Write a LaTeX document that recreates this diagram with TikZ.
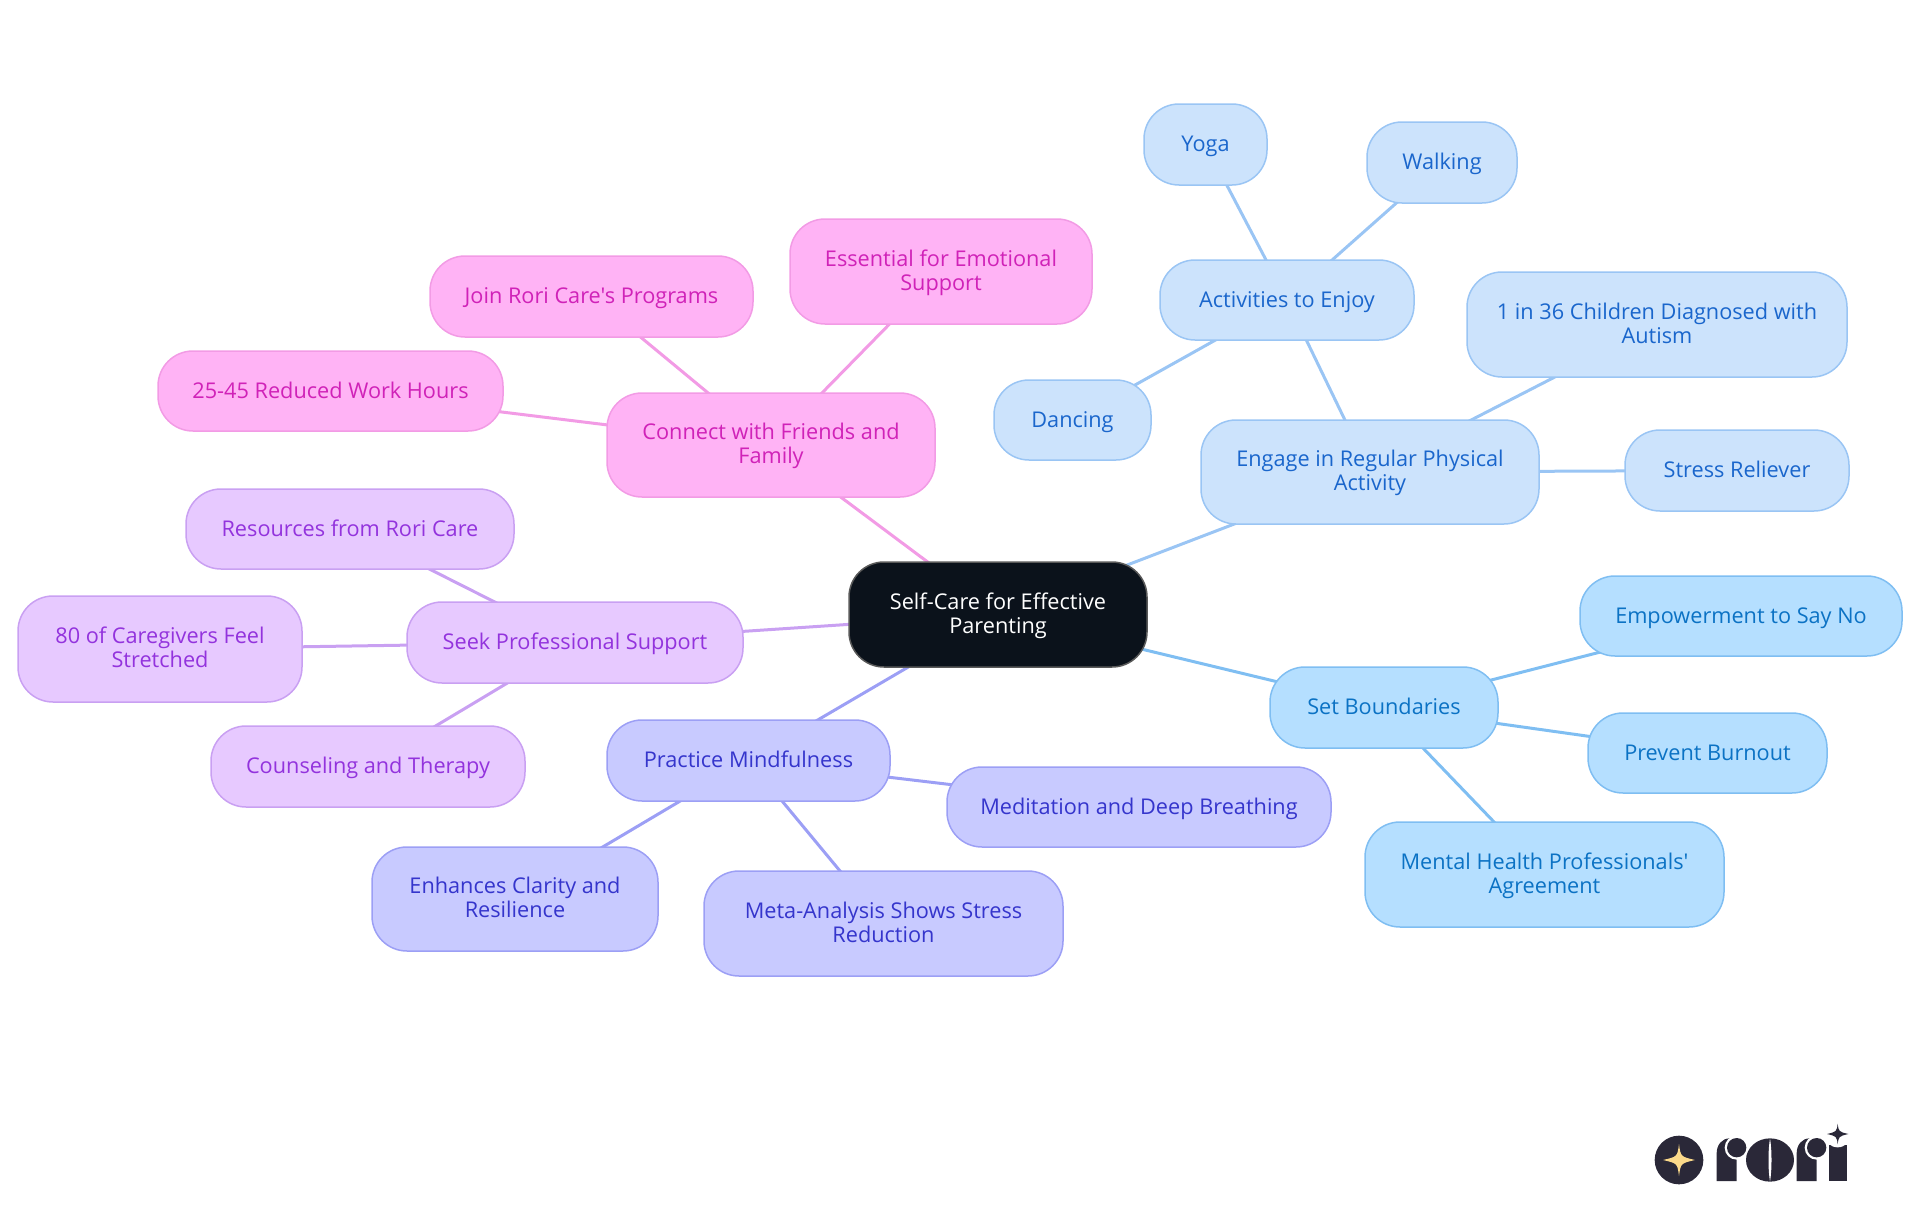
\documentclass[tikz,border=0pt]{standalone}
\usepackage{fontspec}
\setmainfont[Ligatures=TeXOff]{Open Sans}
\usetikzlibrary{backgrounds}
\definecolor{bluefill}{HTML}{CCE3FC}\definecolor{blueline}{HTML}{9AC5F4}\definecolor{bluetext}{HTML}{1A66CC}
\definecolor{skyfill}{HTML}{B5DFFF}\definecolor{skyline}{HTML}{7FBEF2}\definecolor{skytext}{HTML}{0B72C4}
\definecolor{indfill}{HTML}{C8CAFF}\definecolor{indline}{HTML}{9C9FF5}\definecolor{indtext}{HTML}{3535CC}
\definecolor{purfill}{HTML}{E7C9FF}\definecolor{purline}{HTML}{C9A0F2}\definecolor{purtext}{HTML}{9333DD}
\definecolor{pinkfill}{HTML}{FFB3F5}\definecolor{pinkline}{HTML}{F29BE5}\definecolor{pinktext}{HTML}{D022B8}
\definecolor{rootfill}{HTML}{0B121B}\definecolor{logodark}{HTML}{2A2838}\definecolor{logogold}{HTML}{FBD98A}
\tikzset{
  box/.style={rectangle,rounded corners=35pt,inner sep=0pt,line width=1.5pt,align=center,font=\fontsize{21.7}{24}\selectfont,
    text height=19pt,text depth=5pt},
  twoline/.style={text height=42.8pt,text depth=5pt},
  rootbox/.style={box,fill=rootfill,draw=gray!70!black,text=white},
  bluebox/.style={box,fill=bluefill,draw=blueline,text=bluetext},
  skybox/.style={box,fill=skyfill,draw=skyline,text=skytext},
  indbox/.style={box,fill=indfill,draw=indline,text=indtext},
  purbox/.style={box,fill=purfill,draw=purline,text=purtext},
  pinkbox/.style={box,fill=pinkfill,draw=pinkline,text=pinktext},
  sz/.style n args={2}{minimum width=#1pt,minimum height=#2pt},
  link/.style={line width=3pt}
}
\begin{document}
\begin{tikzpicture}[x=1pt,y=-1pt]
\useasboundingbox (0,0) rectangle (1920,1215);
\node[rootbox,twoline,sz={298}{105}] (root) at (998,614.5) {Self-Care for Effective\\Parenting};
\node[bluebox,twoline,sz={338}{104}] (engage) at (1370,472) {Engage in Regular Physical\\Activity};
\node[bluebox,sz={254}{80}] (act) at (1287,300) {Activities to Enjoy};
\node[bluebox,sz={123}{81}] (yoga) at (1205.5,144.5) {Yoga};
\node[bluebox,sz={150}{81}] (walk) at (1442,162.5) {Walking};
\node[bluebox,sz={157}{80}] (dance) at (1072.5,420) {Dancing};
\node[bluebox,twoline,sz={380}{105}] (inthirty) at (1657,324.5) {1 in 36 Children Diagnosed with\\Autism};
\node[bluebox,sz={224}{81}] (stress) at (1737,470.5) {Stress Reliever};
\node[skybox,sz={228}{81}] (setb) at (1384,707.5) {Set Boundaries};
\node[skybox,sz={322}{80}] (emp) at (1741,616) {Empowerment to Say No};
\node[skybox,sz={239}{80}] (prev) at (1707.5,753) {Prevent Burnout};
\node[skybox,twoline,sz={359}{105}] (ment) at (1544.5,874.5) {Mental Health Professionals'\\Agreement};
\node[indbox,sz={283}{81}] (prac) at (748.5,760.5) {Practice Mindfulness};
\node[indbox,sz={384}{80}] (medi) at (1139,807) {Meditation and Deep Breathing};
\node[indbox,twoline,sz={359}{105}] (meta) at (883.5,923.5) {Meta-Analysis Shows Stress\\Reduction};
\node[indbox,twoline,sz={286}{104}] (enh) at (515,899) {Enhances Clarity and\\Resilience};
\node[purbox,sz={336}{81}] (seek) at (575,642.5) {Seek Professional Support};
\node[purbox,sz={328}{80}] (res) at (350,529) {Resources from Rori Care};
\node[purbox,twoline,sz={284}{106}] (eighty) at (160,649) {80 of Caregivers Feel\\Stretched};
\node[purbox,sz={314}{81}] (coun) at (368,766.5) {Counseling and Therapy};
\node[pinkbox,twoline,sz={328}{104}] (conn) at (771,445) {Connect with Friends and\\Family};
\node[pinkbox,twoline,sz={302}{105}] (ess) at (941,271.5) {Essential for Emotional\\Support};
\node[pinkbox,sz={323}{81}] (join) at (591.5,296.5) {Join Rori Care's Programs};
\node[pinkbox,sz={345}{80}] (tf) at (330.5,391) {25-45 Reduced Work Hours};
\begin{scope}[on background layer]
\draw[link,blueline] (root.center) -- (engage.center);
\draw[link,blueline] (engage.center) -- (act.center);
\draw[link,blueline] (engage.center) -- (inthirty.center);
\draw[link,blueline] (engage.center) -- (stress.center);
\draw[link,blueline] (act.center) -- (yoga.center);
\draw[link,blueline] (act.center) -- (walk.center);
\draw[link,blueline] (act.center) -- (dance.center);
\draw[link,skyline] (root.center) -- (setb.center);
\draw[link,skyline] (setb.center) -- (emp.center);
\draw[link,skyline] (setb.center) -- (prev.center);
\draw[link,skyline] (setb.center) -- (ment.center);
\draw[link,indline] (root.center) -- (prac.center);
\draw[link,indline] (prac.center) -- (medi.center);
\draw[link,indline] (prac.center) -- (meta.center);
\draw[link,indline] (prac.center) -- (enh.center);
\draw[link,purline] (root.center) -- (seek.center);
\draw[link,purline] (seek.center) -- (res.center);
\draw[link,purline] (seek.center) -- (eighty.center);
\draw[link,purline] (seek.center) -- (coun.center);
\draw[link,pinkline] (root.center) -- (conn.center);
\draw[link,pinkline] (conn.center) -- (ess.center);
\draw[link,pinkline] (conn.center) -- (join.center);
\draw[link,pinkline] (conn.center) -- (tf.center);
\end{scope}
% logo
\begin{scope}[shift={(1620,1100)},x=0.33333pt,y=-0.33333pt]
\fill[logodark] (177,180) circle [radius=73];
\fill[logogold] (177,132) .. controls (182,170) .. (225,180) .. controls (182,190) .. (177,228) .. controls (172,190) .. (129,180) .. controls (172,170) .. cycle;
% first r
\fill[logodark] (290,243) -- (290,160) .. controls (290,135) and (305,115) .. (330,115) -- (350,115) -- (350,243) -- cycle;
\fill[white] (350,143) circle [radius=36];
\fill[logodark] (350,143) circle [radius=29];
% o
\fill[logodark] (450,180) ellipse [x radius=72,y radius=65];
\fill[white] (450,115) .. controls (456,150) and (456,210) .. (450,245) .. controls (444,210) and (444,150) .. (450,115) -- cycle;
% second r
\fill[logodark] (530,243) -- (530,160) .. controls (530,135) and (545,115) .. (570,115) -- (590,115) -- (590,243) -- cycle;
\fill[white] (590,143) circle [radius=36];
\fill[logodark] (590,143) circle [radius=29];
% i
\fill[logodark] (627,243) -- (627,136) -- (680,136) -- (680,243) -- cycle;
\fill[white] (653,102) circle [radius=40];
\fill[logodark] (653,71) .. controls (656,95) .. (685,102) .. controls (656,109) .. (653,133) .. controls (650,109) .. (621,102) .. controls (650,95) .. cycle;
\end{scope}
\end{tikzpicture}
\end{document}
